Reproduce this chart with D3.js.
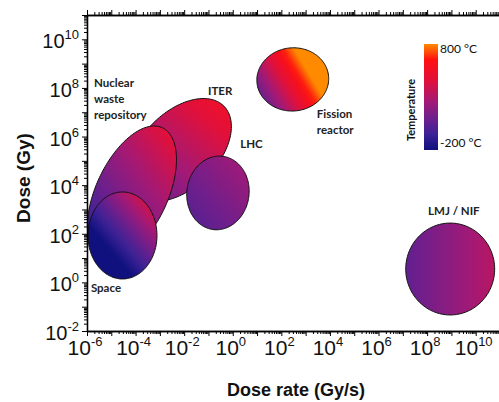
<!DOCTYPE html>
<html>
<head>
<meta charset="utf-8">
<script src="https://cdn.jsdelivr.net/npm/d3@7"></script>
<style>
  html, body { margin: 0; padding: 0; background: #fff; }
  svg { display: block; }
</style>
</head>
<body>
<svg id="chart" width="499" height="402"></svg>
<script>
// ---------- data ----------
const regimes      = ["ITER", "Nuclear waste repository", "LHC", "Space", "Fission reactor", "LMJ / NIF"];
// ellipse centre (log10 dose rate in Gy/s, log10 dose in Gy)
const logRateCenter = [-2.17, -4.15, -0.61, -4.54, 2.47, 8.95];
const logDoseCenter = [ 5.45,  3.68,  3.68,  1.93, 8.35, 0.55];
// semi-axes (decades) and tilt (degrees)
const semiA   = [2.55, 2.96, 1.28, 1.42, 1.48, 1.83];
const semiB   = [1.56, 1.48, 1.52, 1.79, 1.30, 1.89];
const tiltDeg = [45, 65, -8, 0, 5, 0];
// temperature range covered (°C)
const tempMin = [120, -150,  30, -200,   0,  60];
const tempMax = [520,  480, 250,  500, 800, 330];

// labels (text lines + anchor in log coords)
const labelLines = [["Nuclear", "waste", "repository"], ["ITER"], ["LHC"], ["Fission", "reactor"], ["LMJ / NIF"], ["Space"]];
const labelLogRate = [-5.71, -1.02, 0.31, 3.46, 9.10, -5.84];
const labelLogDose = [ 8.04,  7.71, 5.53, 6.76, 2.77, -0.40];

const xTickExp = [-6, -4, -2, 0, 2, 4, 6, 8, 10];
const yTickExp = [-2, 0, 2, 4, 6, 8, 10];
const tempScaleT = [-200, -50, 100, 250, 450, 650, 800];
const tempScaleC = ["#10107e", "#3c2296", "#6e1f8c", "#a01a78", "#e0103c", "#ff1010", "#ff8a00"];
const legendTicks = [800, -200];

// gradient direction per ellipse (bounding-box units) – style
const gradDir = [
  [0.2, 0.9, 0.9, 0.1],
  [0.0, 1.0, 0.9, 0.0],
  [0.1, 0.9, 0.9, 0.1],
  [0.35, 0.7, 0.95, 0.05],
  [0.0, 0.85, 0.75, 0.45],
  [0.0, 0.5, 1.0, 0.5]
];

// ---------- layout ----------
const svg = d3.select("#chart");
const mLeft = 87, mRight = 500, mTop = 15, mBottom = 331;
const x = d3.scaleLog().domain([1e-6, 1e11]).range([mLeft, mRight]);
const y = d3.scaleLog().domain([1e-2, 1e11]).range([mBottom, mTop]);
const tempColor = d3.scaleLinear().domain(tempScaleT).range(tempScaleC).clamp(true);

const defs = svg.append("defs");

// ---------- ellipses ----------
const order = d3.range(regimes.length);
order.forEach(i => {
  const g = defs.append("linearGradient").attr("id", "g" + i)
    .attr("x1", gradDir[i][0]).attr("y1", gradDir[i][1])
    .attr("x2", gradDir[i][2]).attr("y2", gradDir[i][3]);
  const n = 12;
  for (let k = 0; k <= n; k++) {
    const f = k / n;
    g.append("stop").attr("offset", f)
      .attr("stop-color", tempColor(tempMin[i] + f * (tempMax[i] - tempMin[i])));
  }
});

const line = d3.line().x(d => x(Math.pow(10, d[0]))).y(d => y(Math.pow(10, d[1]))).curve(d3.curveLinearClosed);
order.forEach(i => {
  const th = tiltDeg[i] * Math.PI / 180;
  const pts = d3.range(0, 2 * Math.PI, Math.PI / 90).map(t => {
    const u = semiA[i] * Math.cos(t), v = semiB[i] * Math.sin(t);
    return [logRateCenter[i] + u * Math.cos(th) - v * Math.sin(th),
            logDoseCenter[i] + u * Math.sin(th) + v * Math.cos(th)];
  });
  svg.append("path").attr("d", line(pts))
    .attr("fill", "url(#g" + i + ")")
    .attr("stroke", "#111").attr("stroke-width", 1);
});

// ---------- labels ----------
labelLines.forEach((lines, i) => {
  const t = svg.append("text")
    .attr("x", x(Math.pow(10, labelLogRate[i])))
    .attr("y", y(Math.pow(10, labelLogDose[i])))
    .attr("font-family", "Lato, 'Open Sans', sans-serif")
    .attr("font-weight", 700).attr("font-size", 11.5).attr("fill", "#222")
    .attr("text-anchor", lines[0] === "LMJ / NIF" ? "middle" : "start");
  lines.forEach((s, k) => {
    t.append("tspan").attr("x", x(Math.pow(10, labelLogRate[i]))).attr("dy", k === 0 ? 0 : 16).text(s);
  });
});

// ---------- axes ----------
const decadesX = d3.range(-6, 11);
const decadesY = d3.range(-2, 11);
const minorOf = decs => decs.flatMap(d => d3.range(2, 10).map(k => k * Math.pow(10, d)));
const majX = decadesX.map(d => Math.pow(10, d)).concat([1e11]);
const majY = decadesY.map(d => Math.pow(10, d)).concat([1e11]);

function styleAxis(g) {
  g.select(".domain").attr("stroke", "#000").attr("stroke-width", 1.3);
  g.selectAll(".tick line").attr("stroke", "#000").attr("stroke-width", 1);
}
// bottom
svg.append("g").attr("transform", `translate(0,${mBottom})`)
  .call(d3.axisBottom(x).tickValues(minorOf(decadesX)).tickSize(3).tickSizeOuter(0).tickFormat("")).call(styleAxis);
svg.append("g").attr("transform", `translate(0,${mBottom})`)
  .call(d3.axisBottom(x).tickValues(majX).tickSize(5).tickSizeOuter(0).tickFormat("")).call(styleAxis);
// top
svg.append("g").attr("transform", `translate(0,${mTop})`)
  .call(d3.axisTop(x).tickValues(minorOf(decadesX)).tickSize(3).tickSizeOuter(0).tickFormat("")).call(styleAxis);
svg.append("g").attr("transform", `translate(0,${mTop})`)
  .call(d3.axisTop(x).tickValues(majX).tickSize(5).tickSizeOuter(0).tickFormat("")).call(styleAxis);
// left
svg.append("g").attr("transform", `translate(${mLeft},0)`)
  .call(d3.axisLeft(y).tickValues(minorOf(decadesY)).tickSize(3).tickSizeOuter(0).tickFormat("")).call(styleAxis);
svg.append("g").attr("transform", `translate(${mLeft},0)`)
  .call(d3.axisLeft(y).tickValues(majY).tickSize(5).tickSizeOuter(0).tickFormat("")).call(styleAxis);

// tick labels
const tickFont = "'Liberation Sans', Arial, sans-serif";
xTickExp.forEach(e => {
  const t = svg.append("text").attr("x", x(Math.pow(10, e)) - 2).attr("y", 355)
    .attr("text-anchor", "middle").attr("font-family", tickFont).attr("font-size", 21).attr("fill", "#111");
  t.append("tspan").text("10");
  t.append("tspan").attr("dy", -9).attr("font-size", 13).text(e);
});
yTickExp.forEach(e => {
  const t = svg.append("text").attr("x", 79).attr("y", y(Math.pow(10, e)) + 9)
    .attr("text-anchor", "end").attr("font-family", tickFont).attr("font-size", 20).attr("fill", "#111");
  t.append("tspan").text("10");
  t.append("tspan").attr("dy", -9).attr("font-size", 13).text(e);
});

// axis titles
svg.append("text").attr("x", 296).attr("y", 396).attr("text-anchor", "middle")
  .attr("font-family", tickFont).attr("font-weight", 700).attr("font-size", 18).attr("fill", "#111")
  .text("Dose rate (Gy/s)");
svg.append("text").attr("transform", "translate(30,178) rotate(-90)").attr("text-anchor", "middle")
  .attr("font-family", tickFont).attr("font-weight", 700).attr("font-size", 19).attr("fill", "#111")
  .text("Dose (Gy)");

// ---------- legend ----------
const lx = 424, lw = 14, ly0 = 44, ly1 = 150;
const lg = defs.append("linearGradient").attr("id", "legendGrad").attr("x1", 0).attr("y1", 1).attr("x2", 0).attr("y2", 0);
const tScale = d3.scaleLinear().domain([-200, 800]).range([ly1, ly0]);
tempScaleT.forEach((t, k) => lg.append("stop").attr("offset", (t + 200) / 1000).attr("stop-color", tempScaleC[k]));
svg.append("rect").attr("x", lx).attr("y", ly0).attr("width", lw).attr("height", ly1 - ly0).attr("fill", "url(#legendGrad)");
legendTicks.forEach(t => {
  svg.append("text").attr("x", lx + lw + 2).attr("y", tScale(t) + (t === 800 ? 9 : -3))
    .attr("font-family", "Lato, 'Open Sans', sans-serif").attr("font-size", 12).attr("fill", "#111")
    .text((t) + " °C");
});
svg.append("text").attr("transform", "translate(415,110) rotate(-90)").attr("text-anchor", "middle")
  .attr("font-family", "Lato, 'Open Sans', sans-serif").attr("font-weight", 700).attr("font-size", 11).attr("fill", "#111")
  .text("Temperature");
</script>
</body>
</html>
